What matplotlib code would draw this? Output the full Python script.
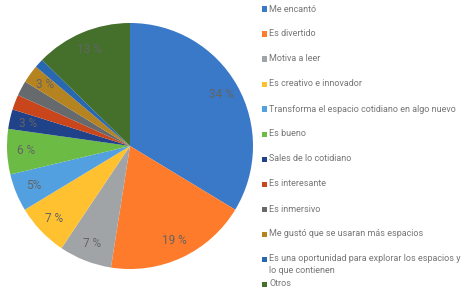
import matplotlib
matplotlib.use("Agg")
import matplotlib.pyplot as plt

plt.rcParams["font.family"] = ["Roboto", "DejaVu Sans"]

categories = [
    "Me encantó", "Es divertido", "Motiva a leer", "Es creativo e innovador",
    "Transforma el espacio cotidiano en algo nuevo", "Es bueno",
    "Sales de lo cotidiano", "Es interesante", "Es inmersivo",
    "Me gustó que se usaran más espacios",
    "Es una oportunidad para explorar los espacios y\nlo que contienen",
    "Otros",
]
values = [34, 19, 7, 7, 5, 6, 2.6, 2, 2, 2.4, 1.2, 12.8]
# the thinnest slices carry no visible label in the original
pct_labels = ["34 %", "19 %", "7 %", "7 %", "5%", "6 %", "3 %", "", "",
              "3 %", "", "13 %"]
colors = ["#3a78c8", "#fd7b2a", "#a0a4a6", "#ffc130", "#52a0e0", "#6bbb45",
          "#1f4289", "#c9461c", "#666a6c", "#b58320", "#2868b0", "#44702c"]

W, H = 468, 291
fig = plt.figure(figsize=(W / 100, H / 100), dpi=100)
cx, cy, r = 130, 146, 123
ax = fig.add_axes([(cx - r) / W, (H - cy - r) / H, 2 * r / W, 2 * r / H])

it = iter(pct_labels)
wedges, _, autotexts = ax.pie(values, colors=colors, startangle=90,
                              counterclock=False, radius=1,
                              autopct=lambda p: next(it), pctdistance=0.85,
                              wedgeprops=dict(linewidth=0))
for t in autotexts:
    t.set_color("#646464")
    t.set_fontsize(8.5)
ax.set_xlim(-1, 1); ax.set_ylim(-1, 1)
ax.set_aspect("auto")

# legend drawn by hand to match the spacing of the original
y0, step = 9, 25
x_box, x_txt = 264, 269
for i, (lab, c) in enumerate(zip(categories, colors)):
    y = y0 + i * step
    fig.patches.append(plt.Rectangle(((x_box - 2.5) / W, 1 - (y + 2.5) / H),
                                     5 / W, 5 / H, transform=fig.transFigure,
                                     facecolor=c, edgecolor="none"))
    if "\n" in lab:
        fig.text(x_txt / W, 1 - (y - 5) / H, lab, ha="left", va="top",
                 fontsize=6.5, color="#767676", linespacing=1.4)
    else:
        fig.text(x_txt / W, 1 - y / H, lab, ha="left", va="center",
                 fontsize=6.5, color="#767676")

fig.savefig("out.png", dpi=100, facecolor="white")
